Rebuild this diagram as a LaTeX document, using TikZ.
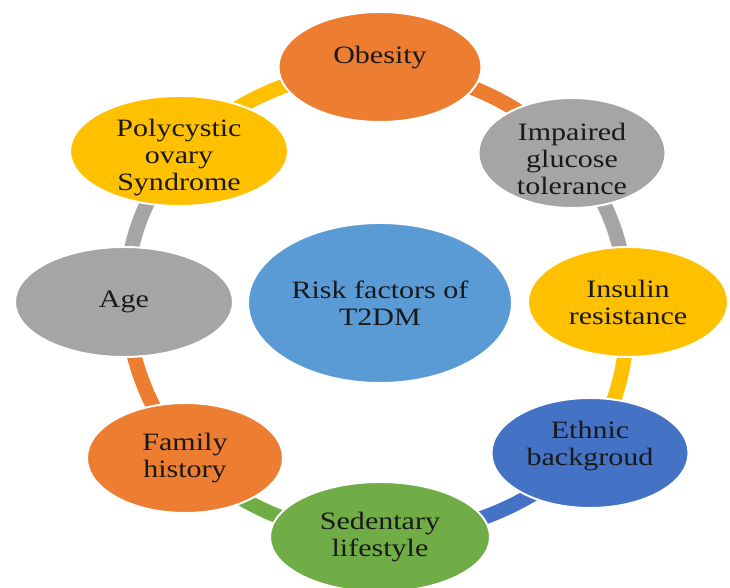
\documentclass[tikz,border=0pt]{standalone}
\usepackage{fontspec}
\setmainfont{Liberation Serif}[FakeStretch=1.2]
\usepackage{tikz}
\usetikzlibrary{shapes.geometric, backgrounds}
\definecolor{riskOrange}{HTML}{ED7D31}
\definecolor{riskGray}{HTML}{A5A5A5}
\definecolor{riskYellow}{HTML}{FFC000}
\definecolor{riskNavy}{HTML}{4472C4}
\definecolor{riskGreen}{HTML}{70AD47}
\definecolor{riskBlue}{HTML}{5B9BD5}
\definecolor{textBlack}{gray}{0.1}
% struts that push a label down or up inside its ellipse
\newcommand{\topgap}{\rule{0pt}{0.75cm}}
\newcommand{\bottomgap}{\rule[-0.49cm]{0pt}{0.49cm}}

\begin{document}
\begin{tikzpicture}[
    factor/.style={ellipse, draw=white, line width=1.4pt, inner sep=0pt,
        minimum width=5.1cm, minimum height=2.75cm, align=center, text=textBlack,
        font=\fontsize{17.8pt}{19.2pt}\selectfont},
    threeline/.style={inner ysep=-0.35cm},
    ring/.style={line width=10.5pt}]
    \useasboundingbox (0,0) rectangle (18.25,14.7);

    % centre of the cycle
    \node[factor, fill=riskBlue, minimum width=6.6cm, minimum height=4cm] (centre) at (9.5,7.125) {Risk factors of\\T2DM};

    % risk factors, clockwise from the top
    \node[factor, fill=riskOrange, minimum width=5.075cm, text depth=0.6cm] (obesity) at (9.5,13.025) {Obesity};
    \node[factor, fill=riskGray, minimum width=4.675cm, threeline] (glucose) at (14.3,10.875) {\topgap Impaired\\glucose\\tolerance};
    \node[factor, fill=riskYellow, minimum width=5cm] (insulin) at (15.7,7.15) {Insulin\\resistance};
    \node[factor, fill=riskNavy, minimum width=4.925cm] (ethnic) at (14.75,3.375) {Ethnic\\backgroud\bottomgap};
    \node[factor, fill=riskGreen, minimum width=5.5cm] (sedentary) at (9.5,1.275) {Sedentary\\lifestyle};
    \node[factor, fill=riskOrange, minimum width=4.9cm] (family) at (4.625,3.25) {Family\\history};
    \node[factor, fill=riskGray, minimum width=5.45cm] (age) at (3.1,7.15) {Age};
    \node[factor, fill=riskYellow, minimum width=5.45cm, threeline] (pcos) at (4.475,10.925) {\topgap Polycystic\\ovary\\Syndrome};

    % ring segments behind the ellipses
    \begin{scope}[on background layer]
        \draw[ring, riskOrange] (obesity.center) to[bend left=18] (glucose.center);
        \draw[ring, riskGray] (glucose.center) to[bend left=16] (insulin.center);
        \draw[ring, riskYellow] (insulin.center) to[bend left=14] (ethnic.center);
        \draw[ring, riskNavy] (ethnic.center) to[bend left=18] (sedentary.center);
        \draw[ring, riskGreen] (sedentary.center) to[bend left=18] (family.center);
        \draw[ring, riskOrange] (family.center) to[bend left=14] (age.center);
        \draw[ring, riskGray] (age.center) to[bend left=16] (pcos.center);
        \draw[ring, riskYellow] (pcos.center) to[bend left=18] (obesity.center);
    \end{scope}
\end{tikzpicture}
\end{document}
